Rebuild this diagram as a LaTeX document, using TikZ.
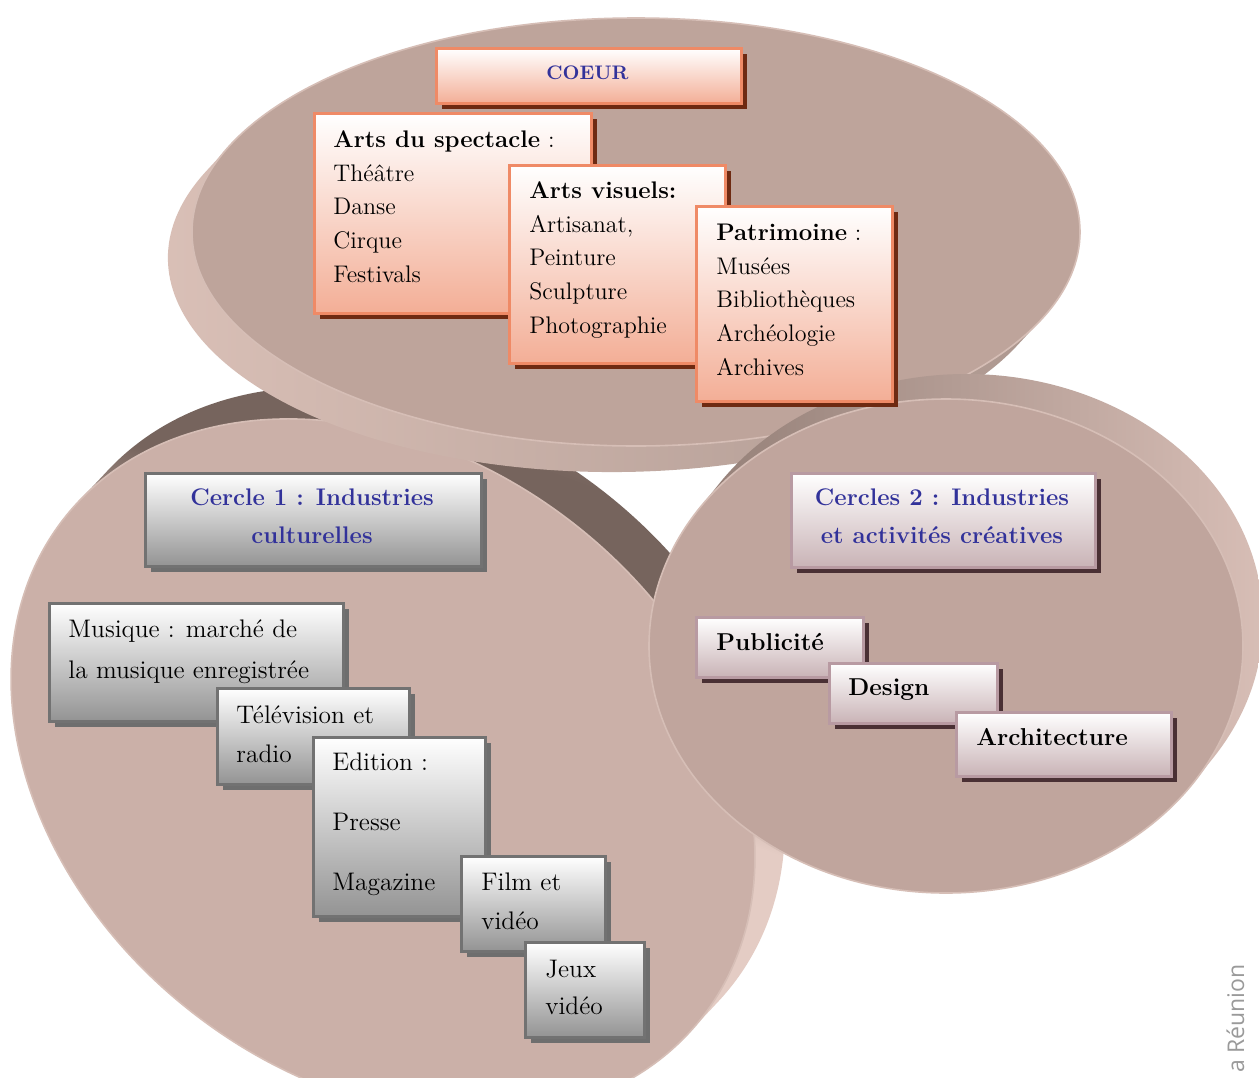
\documentclass[tikz,border=0pt]{standalone}
\usepackage{fontspec}
\newfontfamily\osans{Open Sans}
\usetikzlibrary{shadows}
\definecolor{faceA}{HTML}{BEA49B}
\definecolor{faceB}{HTML}{CBB0A8}
\definecolor{faceC}{HTML}{C0A59D}
\definecolor{rimline}{HTML}{D6BEB6}
\definecolor{sideLa}{HTML}{76645D}
\definecolor{sideLb}{HTML}{9A857D}
\definecolor{sideLc}{HTML}{E4CCC4}
\definecolor{sideTa}{HTML}{DCC2B9}
\definecolor{sideTb}{HTML}{9C877F}
\definecolor{sideTc}{HTML}{A8938B}
\definecolor{sideRa}{HTML}{8A766E}
\definecolor{sideRb}{HTML}{A38F87}
\definecolor{sideRc}{HTML}{DCC2BA}
\definecolor{titleblue}{HTML}{32329A}
\definecolor{coeurfill}{HTML}{F3AE96}
\definecolor{coeurline}{HTML}{EF8A66}
\definecolor{coeurshadow}{HTML}{6E2A12}
\definecolor{grayfill}{HTML}{939393}
\definecolor{grayline}{HTML}{727272}
\definecolor{grayshadow}{HTML}{6E6E6E}
\definecolor{mauvefill}{HTML}{C9B3B6}
\definecolor{mauveline}{HTML}{B89AA2}
\definecolor{mauveshadow}{HTML}{4A3034}
\definecolor{osgray}{HTML}{9A9A9A}
\pgfdeclareverticalshading{leftside}{100bp}{color(0bp)=(sideLc); color(52bp)=(sideLc); color(62bp)=(sideLa); color(69bp)=(sideLa); color(75bp)=(sideLb); color(100bp)=(sideLb)}
\tikzset{
  box/.style={rectangle, anchor=north west, inner sep=0pt},
  coeurbox/.style={box, draw=coeurline, line width=1.6pt, top color=white, bottom color=coeurfill,
    general shadow={fill=coeurshadow, shadow xshift=2.8pt, shadow yshift=-2.8pt}},
  graybox/.style={box, draw=grayline, line width=1.5pt, top color=white, bottom color=grayfill,
    general shadow={fill=grayshadow, shadow xshift=2.8pt, shadow yshift=-2.8pt}},
  mauvebox/.style={box, draw=mauveline, line width=1.3pt, top color=white, bottom color=mauvefill,
    general shadow={fill=mauveshadow, shadow xshift=2.6pt, shadow yshift=-2.6pt}},
  coeurtext/.style={anchor=north west, inner sep=0pt, align=left, font=\fontsize{12}{16.85}\selectfont},
  grtext/.style={anchor=north west, inner sep=0pt, align=left, font=\fontsize{12.7}{19.5}\selectfont},
  mvtext/.style={anchor=north west, inner sep=0pt, align=left, font=\bfseries\fontsize{12.2}{15}\selectfont},
  titletext/.style={anchor=north, inner sep=0pt, align=center, text=titleblue, font=\bfseries\fontsize{12}{18.8}\selectfont},
  facestyle/.style={draw=rimline, line width=0.8pt}
}
\newcommand{\stt}{\rule{0pt}{10pt}}
\begin{document}
\begin{tikzpicture}[x=0.5pt, y=0.5pt]
\useasboundingbox (0,0) rectangle (1259,-1077);
\clip (0,0) rectangle (1259,-1077);
\fill[white] (0,0) rectangle (1259,-1077);

% ---------- left disc (Cercle 1) ----------
\begin{scope}[shift={(383,-768)}, rotate=-38]
  \path[shading=leftside, shading angle=-20]
    (-3.94:405 and 310) -- ++(3.93,43.70)
    arc[start angle=-3.94, end angle=176.06, x radius=405, y radius=310]
    -- ++(-3.93,-43.70)
    arc[start angle=176.06, end angle=356.06, x radius=405, y radius=310] -- cycle;
  \path[fill=faceB, facestyle] (0,0) ellipse [x radius=405, y radius=310];
\end{scope}

% ---------- top disc (Coeur) ----------
\begin{scope}[shift={(636,-232)}]
  \path[left color=sideTa, middle color=sideTb, right color=sideTc]
    (156:444 and 214) -- ++(-24,-26)
    arc[start angle=156, end angle=336, x radius=444, y radius=214]
    -- ++(24,26)
    arc[start angle=336, end angle=516, x radius=444, y radius=214] -- cycle;
  \path[fill=faceA, facestyle] (0,0) ellipse [x radius=444, y radius=214];
\end{scope}

% ---------- right disc (Cercle 2) ----------
\begin{scope}[shift={(946,-646)}]
  \path[left color=sideRa, middle color=sideRb, right color=sideRc]
    (-33.6:297 and 247) -- ++(20,25)
    arc[start angle=-33.6, end angle=146.4, x radius=297, y radius=247]
    -- ++(-20,-25)
    arc[start angle=146.4, end angle=326.4, x radius=297, y radius=247] -- cycle;
  \path[fill=faceC, facestyle] (0,0) ellipse [x radius=297, y radius=247];
\end{scope}

% ---------- Coeur boxes ----------
\node[coeurbox, minimum width=152.5pt, minimum height=27.5pt] (coeur) at (435,-47) {};
\node[anchor=base, inner sep=0pt, text=titleblue, font=\bfseries\fontsize{9.8}{11}\selectfont] (coeurT) at (587.5,-79) {COEUR};

\node[coeurbox, minimum width=138.5pt, minimum height=100pt] (spect) at (313,-112) {};
\node[coeurtext] (spectT) at (333,-127) {\stt\textbf{Arts du spectacle} :\\Théâtre\\Danse\\Cirque\\Festivals};

\node[coeurbox, minimum width=108pt, minimum height=99pt] (visu) at (508,-164) {};
\node[coeurtext] (visuT) at (529,-178) {\stt\textbf{Arts visuels:}\\Artisanat,\\Peinture\\Sculpture\\Photographie};

\node[coeurbox, minimum width=98pt, minimum height=97.5pt] (patr) at (695,-205) {};
\node[coeurtext] (patrT) at (716,-220) {\stt\textbf{Patrimoine} :\\Musées\\Bibliothèques\\Archéologie\\Archives};

% ---------- Cercle 1 boxes ----------
\node[graybox, minimum width=168pt, minimum height=46.5pt] (c1) at (144,-472) {};
\node[titletext] (c1T) at (312,-485) {\stt Cercle 1 : Industries\\culturelles};

\node[graybox, minimum width=147pt, minimum height=59pt] (musi) at (48,-602) {};
\node[grtext, font=\fontsize{12.7}{20.5}\selectfont] (musiT) at (68,-617) {\stt Musique : marché de\\la musique enregistrée};

\node[graybox, minimum width=96pt, minimum height=48pt] (tele) at (216,-687) {};
\node[grtext] (teleT) at (236,-703) {\stt Télévision et\\radio};

\node[graybox, minimum width=86pt, minimum height=89.5pt] (edit) at (312,-736) {};
\node[grtext, font=\fontsize{12.7}{30}\selectfont] (editT) at (332,-750) {\stt Edition :\\Presse\\Magazine};

\node[graybox, minimum width=72pt, minimum height=47.5pt] (film) at (460,-855) {};
\node[grtext] (filmT) at (481,-870) {\stt Film et\\vidéo};

\node[graybox, minimum width=59.5pt, minimum height=47.5pt] (jeux) at (524,-941) {};
\node[grtext, font=\fontsize{12.7}{18.5}\selectfont] (jeuxT) at (545,-957) {\stt Jeux\\vidéo};

% ---------- Cercle 2 boxes ----------
\node[mauvebox, minimum width=152pt, minimum height=47pt] (c2) at (790,-472) {};
\node[titletext] (c2T) at (942,-485) {\stt Cercles 2 : Industries\\et activités créatives};

\node[mauvebox, minimum width=83.5pt, minimum height=30pt] (pub) at (695,-616) {};
\node[mvtext] (pubT) at (716,-630) {\stt Publicité};

\node[mauvebox, minimum width=84pt, minimum height=30pt] (des) at (828,-662) {};
\node[mvtext] (desT) at (848,-675) {\stt Design};

\node[mauvebox, minimum width=107.5pt, minimum height=32pt] (arch) at (955,-711) {};
\node[mvtext] (archT) at (976,-725) {\stt Architecture};

% ---------- source text ----------
\node[rotate=90, anchor=base east, inner sep=0pt, text=osgray, font=\osans\fontsize{11.5}{13}\selectfont] (src) at (1244,-964) {a Réunion};
\end{tikzpicture}
\end{document}
